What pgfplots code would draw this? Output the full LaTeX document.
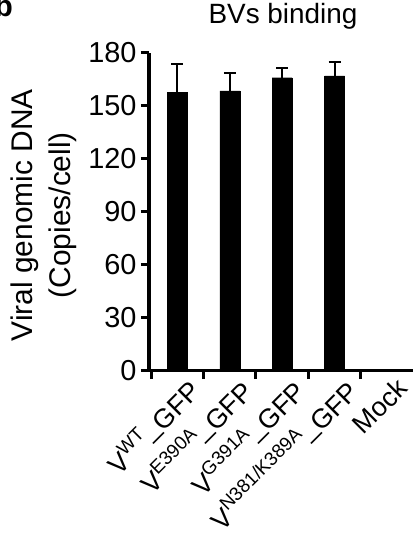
\documentclass[border=0pt]{standalone}
\usepackage{fontspec}
\setmainfont{Liberation Sans}
\usepackage{pgfplots}
\pgfplotsset{compat=1.18}
\newcommand{\sups}[1]{\raisebox{0.40em}{\fontsize{19}{19}\selectfont #1}}
\newcommand{\us}{\raisebox{0.14em}{\_}}
\begin{document}
\begin{tikzpicture}
\path[use as bounding box] (0,0) rectangle (413bp,554bp);
\node[anchor=base east, inner sep=0pt, font=\fontsize{30}{32}\selectfont\bfseries] at (13bp,537bp) {b};
\begin{axis}[
  at={(149bp,183bp)}, anchor=south west,
  scale only axis, width=268bp, height=318bp,
  xmin=-0.54, xmax=4.57, ymin=0, ymax=180,
  axis x line=bottom, axis y line=left,
  axis line style={line width=3bp, -},
  ytick={0,30,60,90,120,150,180},
  xtick={0,1,2,3,4},
  xticklabels={V\sups{WT}\us GFP, V\sups{E390A}\us GFP, V\sups{G391A}\us GFP, V\sups{N381/K389A}\us GFP, Mock},
  minor xtick={-0.5,0.5,1.5,2.5,3.5},
  every major x tick/.append style={draw=none},
  tick align=outside,
  major tick length=8bp, minor tick length=8bp,
  tick style={line width=3bp, black},
  /pgf/number format/assume math mode=true,
  yticklabel style={font=\fontsize{29}{30}\selectfont, xshift=-1bp},
  xticklabel style={font=\fontsize{27}{28}\selectfont, rotate=45, anchor=north east, inner sep=0bp, xshift=8bp, yshift=-4bp},
  ylabel={Viral genomic DNA\\(Copies/cell)},
  ylabel style={at={(axis description cs:-0.392,0.49)}, anchor=center, align=center, font=\fontsize{30}{38}\selectfont},
  title={BVs binding},
  title style={at={(axis description cs:0.5,1)}, anchor=base, yshift=24bp, font=\fontsize{28}{29}\selectfont},
  clip=false,
]
\addplot[ybar, bar width=20bp, fill=black, draw=black,
  error bars/.cd, y dir=plus, y explicit,
  error bar style={line width=2bp, black},
  error mark options={rotate=90, mark size=6bp, line width=2bp, black}]
  coordinates {(0,157.7) +- (0,16.0) (1,158.6) +- (0,10.2) (2,166.0) +- (0,5.3) (3,167.0) +- (0,7.7) (4,0.3) +- (0,0)};
\end{axis}
\end{tikzpicture}
\end{document}
